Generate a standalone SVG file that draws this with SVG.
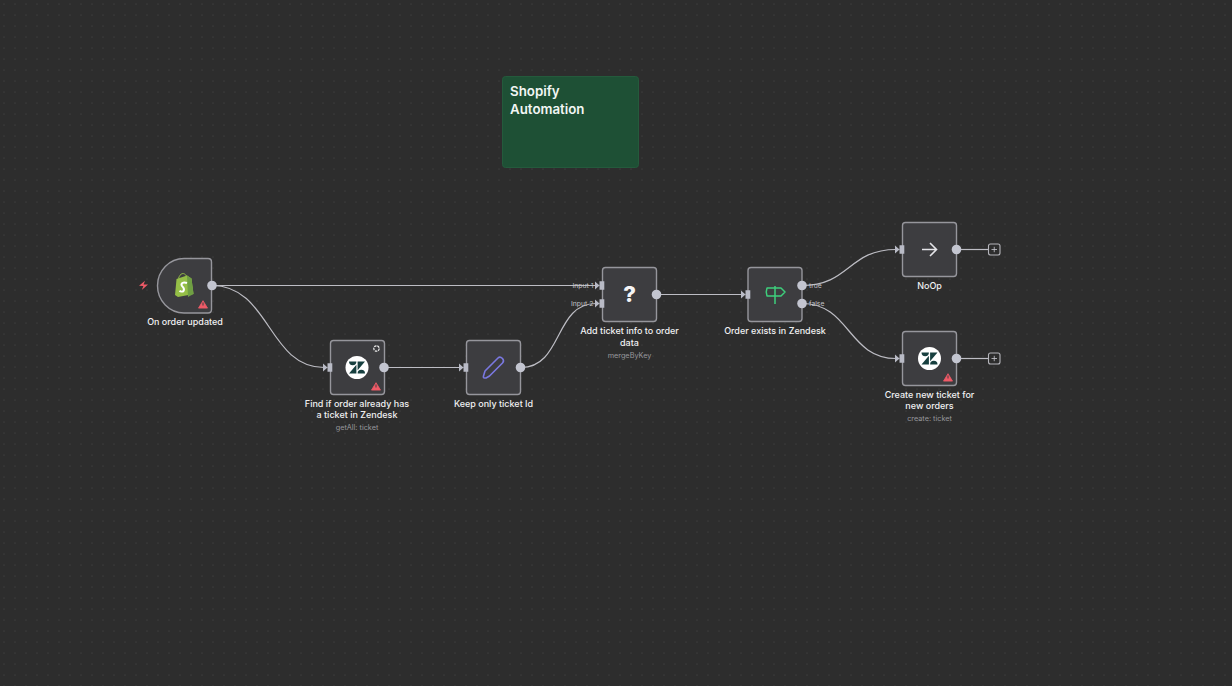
<svg xmlns="http://www.w3.org/2000/svg" width="1232" height="686" viewBox="0 0 1232 686">
<style>
text{font-family:"Inter","Liberation Sans",sans-serif}
.card{fill:#3d3d40;stroke:#96969c;stroke-width:1.4}
.lbl{font-size:9px;font-weight:500;fill:#f0f0f2;text-anchor:middle}
.sub{font-size:7.3px;fill:#97979c;text-anchor:middle}
.pl{font-size:6.8px;fill:#c4c4c8}
.edge{fill:none;stroke:#bdbdc4;stroke-width:1.2}
.port{fill:#c3c5d0}
.inp{fill:#b9bbc6}
.warn{fill:#ef5a67;stroke:#ef5a67;stroke-width:.8;stroke-linejoin:round}
.add{fill:#2d2d2d;stroke:#b5b5bb;stroke-width:1.100}
</style>
<defs>
<pattern id="grid" width="11" height="11" patternUnits="userSpaceOnUse" x="3" y="3"><circle cx="1" cy="1" r="0.55" fill="#4b4b4b"/></pattern>
<path id="inarrow" d="M-5.500-4 L-1 0 L-5.500 4Z M-1-4.300 H3.800 V4.300 H-1Z" class="inp"/>
<path id="warning" d="M0-3.800 L4.500 3.600 H-4.500Z" class="warn"/>
<g id="zd"><circle r="11.500" fill="#fff"/><path d="M-8-6 H-0.600 A3.700 3.700 0 0 1-8-6Z M8 6 H0.600 A3.700 3.700 0 0 1 8 6Z M-0.600 6 H-8 L-0.600-2.800Z M0.600-6 H8 L0.600 2.800Z" fill="#173f3f"/></g>
</defs>
<rect width="1232" height="686" fill="#2d2d2d"/>
<rect width="1232" height="686" fill="url(#grid)"/>

<g id="connectors">
<path class="edge" d="M212 285.500 H598"/>
<path class="edge" d="M212 285.500 C270 285.500 268 367.500 324 367.500"/>
<path class="edge" d="M385 367.500 H460"/>
<path class="edge" d="M521 367.500 C563 367.500 554 303.500 596 303.500"/>
<path class="edge" d="M657 294.500 H742"/>
<path class="edge" d="M802 285.500 C850 285.500 848 249.500 896 249.500"/>
<path class="edge" d="M802 303.500 C850 303.500 848 358.500 896 358.500"/>
<path class="edge" d="M957 249.500 H988"/>
<path class="edge" d="M957 358.500 H988"/>
</g>

<g id="sticky">
<rect x="502.500" y="76.500" width="136" height="91" rx="3" fill="#1e5035" stroke="#245a3c"/>
<text x="510" y="96" font-size="13.300px" font-weight="600" fill="#f2f6f4">Shopify</text>
<text x="510" y="114" font-size="13.300px" font-weight="600" fill="#f2f6f4">Automation</text>
</g>

<g id="node-shopify">
<path class="card" d="M184 258.500 H208 Q211.500 258.500 211.500 262 V309.500 Q211.500 313 208 313 H184 A26.500 27.250 0 0 1 157.500 285.750 A26.500 27.250 0 0 1 184 258.500Z"/>
<path d="M139 285.800 L145 280.800 L143.600 284.600 H148 L141.800 290 L143.400 286 Z" fill="#ef5a67"/>
<path d="M176.500 279 L187 275.500 L191.500 278.500 L193.500 294 L178 297 L175 295 Z" fill="#95bf47"/>
<path d="M187 275.500 L191.500 278.500 L193.500 294 L188 297 Z" fill="#6f9f43"/>
<path d="M178.500 278.500 C180 273 184 272 186.500 276" fill="none" stroke="#95bf47" stroke-width="1"/>
<path d="M187 283 C183 281.500 180.500 283.500 182 286 C183.500 288 185 288.500 183.500 291 C182.500 292 180.500 291.500 179.500 290.700" fill="none" stroke="#fff" stroke-width="2"/>
<use href="#warning" x="203" y="304.500"/>
<rect x="202.500" y="302.500" width="1" height="3" fill="#3d3d40"/>
<circle class="port" cx="212" cy="285.500" r="4.800"/>
<text class="lbl" x="185" y="325">On order updated</text>
</g>

<g id="node-find">
<rect class="card" x="330.500" y="340.500" width="54" height="54" rx="3"/>
<use href="#zd" x="357" y="367.500"/>
<use href="#warning" x="376" y="386.500"/>
<rect x="375.500" y="384.500" width="1" height="3" fill="#3d3d40"/>
<circle cx="376.500" cy="348.500" r="2.700" fill="none" stroke="#eee" stroke-width="1.200" stroke-dasharray="2.500 .8"/>
<use href="#inarrow" x="328.500" y="367.500"/>
<circle class="port" cx="384" cy="367.500" r="4.800"/>
<text class="lbl" x="357" y="407">Find if order already has</text>
<text class="lbl" x="357" y="418">a ticket in Zendesk</text>
<text class="sub" x="357" y="430">getAll: ticket</text>
</g>

<g id="node-keep">
<rect class="card" x="466.500" y="340.500" width="54" height="54" rx="3"/>
<path d="M484.500 378 Q483 378 483.500 376 L485 371 L498 358 Q500 356 502.500 358.500 Q504.500 361 502.500 363 L489.500 376 L486 378 Z" fill="none" stroke="#7a78e0" stroke-width="1.600" stroke-linejoin="round"/>
<use href="#inarrow" x="464.500" y="367.500"/>
<circle class="port" cx="520.500" cy="367.500" r="4.800"/>
<text class="lbl" x="493.500" y="407">Keep only ticket Id</text>
</g>

<g id="node-merge">
<rect class="card" x="602.500" y="267.500" width="54" height="54" rx="3"/>
<text x="629.500" y="302" font-size="22px" font-weight="800" fill="#f4f4f6" text-anchor="middle">?</text>
<use href="#inarrow" x="600.500" y="285.500"/>
<use href="#inarrow" x="600.500" y="303.500"/>
<circle class="port" cx="656.500" cy="294.500" r="4.800"/>
<text class="pl" x="572.500" y="288">Input 1</text>
<text class="pl" x="571" y="306">Input 2</text>
<text class="lbl" x="629.500" y="334">Add ticket info to order</text>
<text class="lbl" x="629.500" y="346">data</text>
<text class="sub" x="629.500" y="358">mergeByKey</text>
</g>

<g id="node-if">
<rect class="card" x="748" y="267.500" width="54" height="54" rx="3"/>
<path d="M775 286 V304 M767 288 H781 L785 292 L781 296 H767 Q765.500 292 767 288Z" fill="none" stroke="#3ecf7c" stroke-width="1.500" stroke-linejoin="round"/>
<use href="#inarrow" x="746.500" y="294.500"/>
<circle class="port" cx="802" cy="285.500" r="4.800"/>
<circle class="port" cx="802" cy="303.500" r="4.800"/>
<text class="pl" x="809" y="288">true</text>
<text class="pl" x="809" y="306">false</text>
<text class="lbl" x="775" y="334">Order exists in Zendesk</text>
</g>

<g id="node-noop">
<rect class="card" x="902.500" y="222.500" width="54" height="54" rx="3"/>
<path d="M922 249.500 H936.500 M930 243 L936.500 249.500 L930 256" fill="none" stroke="#e4e4e8" stroke-width="1.600"/>
<use href="#inarrow" x="900.500" y="249.500"/>
<circle class="port" cx="956.500" cy="249.500" r="4.800"/>
<rect class="add" x="988.500" y="244" width="11.500" height="11" rx="2"/>
<path d="M994.250 246.800 V252.200 M991.500 249.500 H997" stroke="#c9c9d1" stroke-width=".8"/>
<text class="lbl" x="929.500" y="289">NoOp</text>
</g>

<g id="node-create">
<rect class="card" x="902.500" y="331.500" width="54" height="54" rx="3"/>
<use href="#zd" x="929.500" y="358.500"/>
<use href="#warning" x="948" y="377.500"/>
<rect x="947.500" y="375.500" width="1" height="3" fill="#3d3d40"/>
<use href="#inarrow" x="900.500" y="358.500"/>
<circle class="port" cx="956.500" cy="358.500" r="4.800"/>
<rect class="add" x="988.500" y="353" width="11.500" height="11" rx="2"/>
<path d="M994.250 355.800 V361.200 M991.500 358.500 H997" stroke="#c9c9d1" stroke-width=".8"/>
<text class="lbl" x="929.500" y="398">Create new ticket for</text>
<text class="lbl" x="929.500" y="409">new orders</text>
<text class="sub" x="929.500" y="421">create: ticket</text>
</g>
</svg>
